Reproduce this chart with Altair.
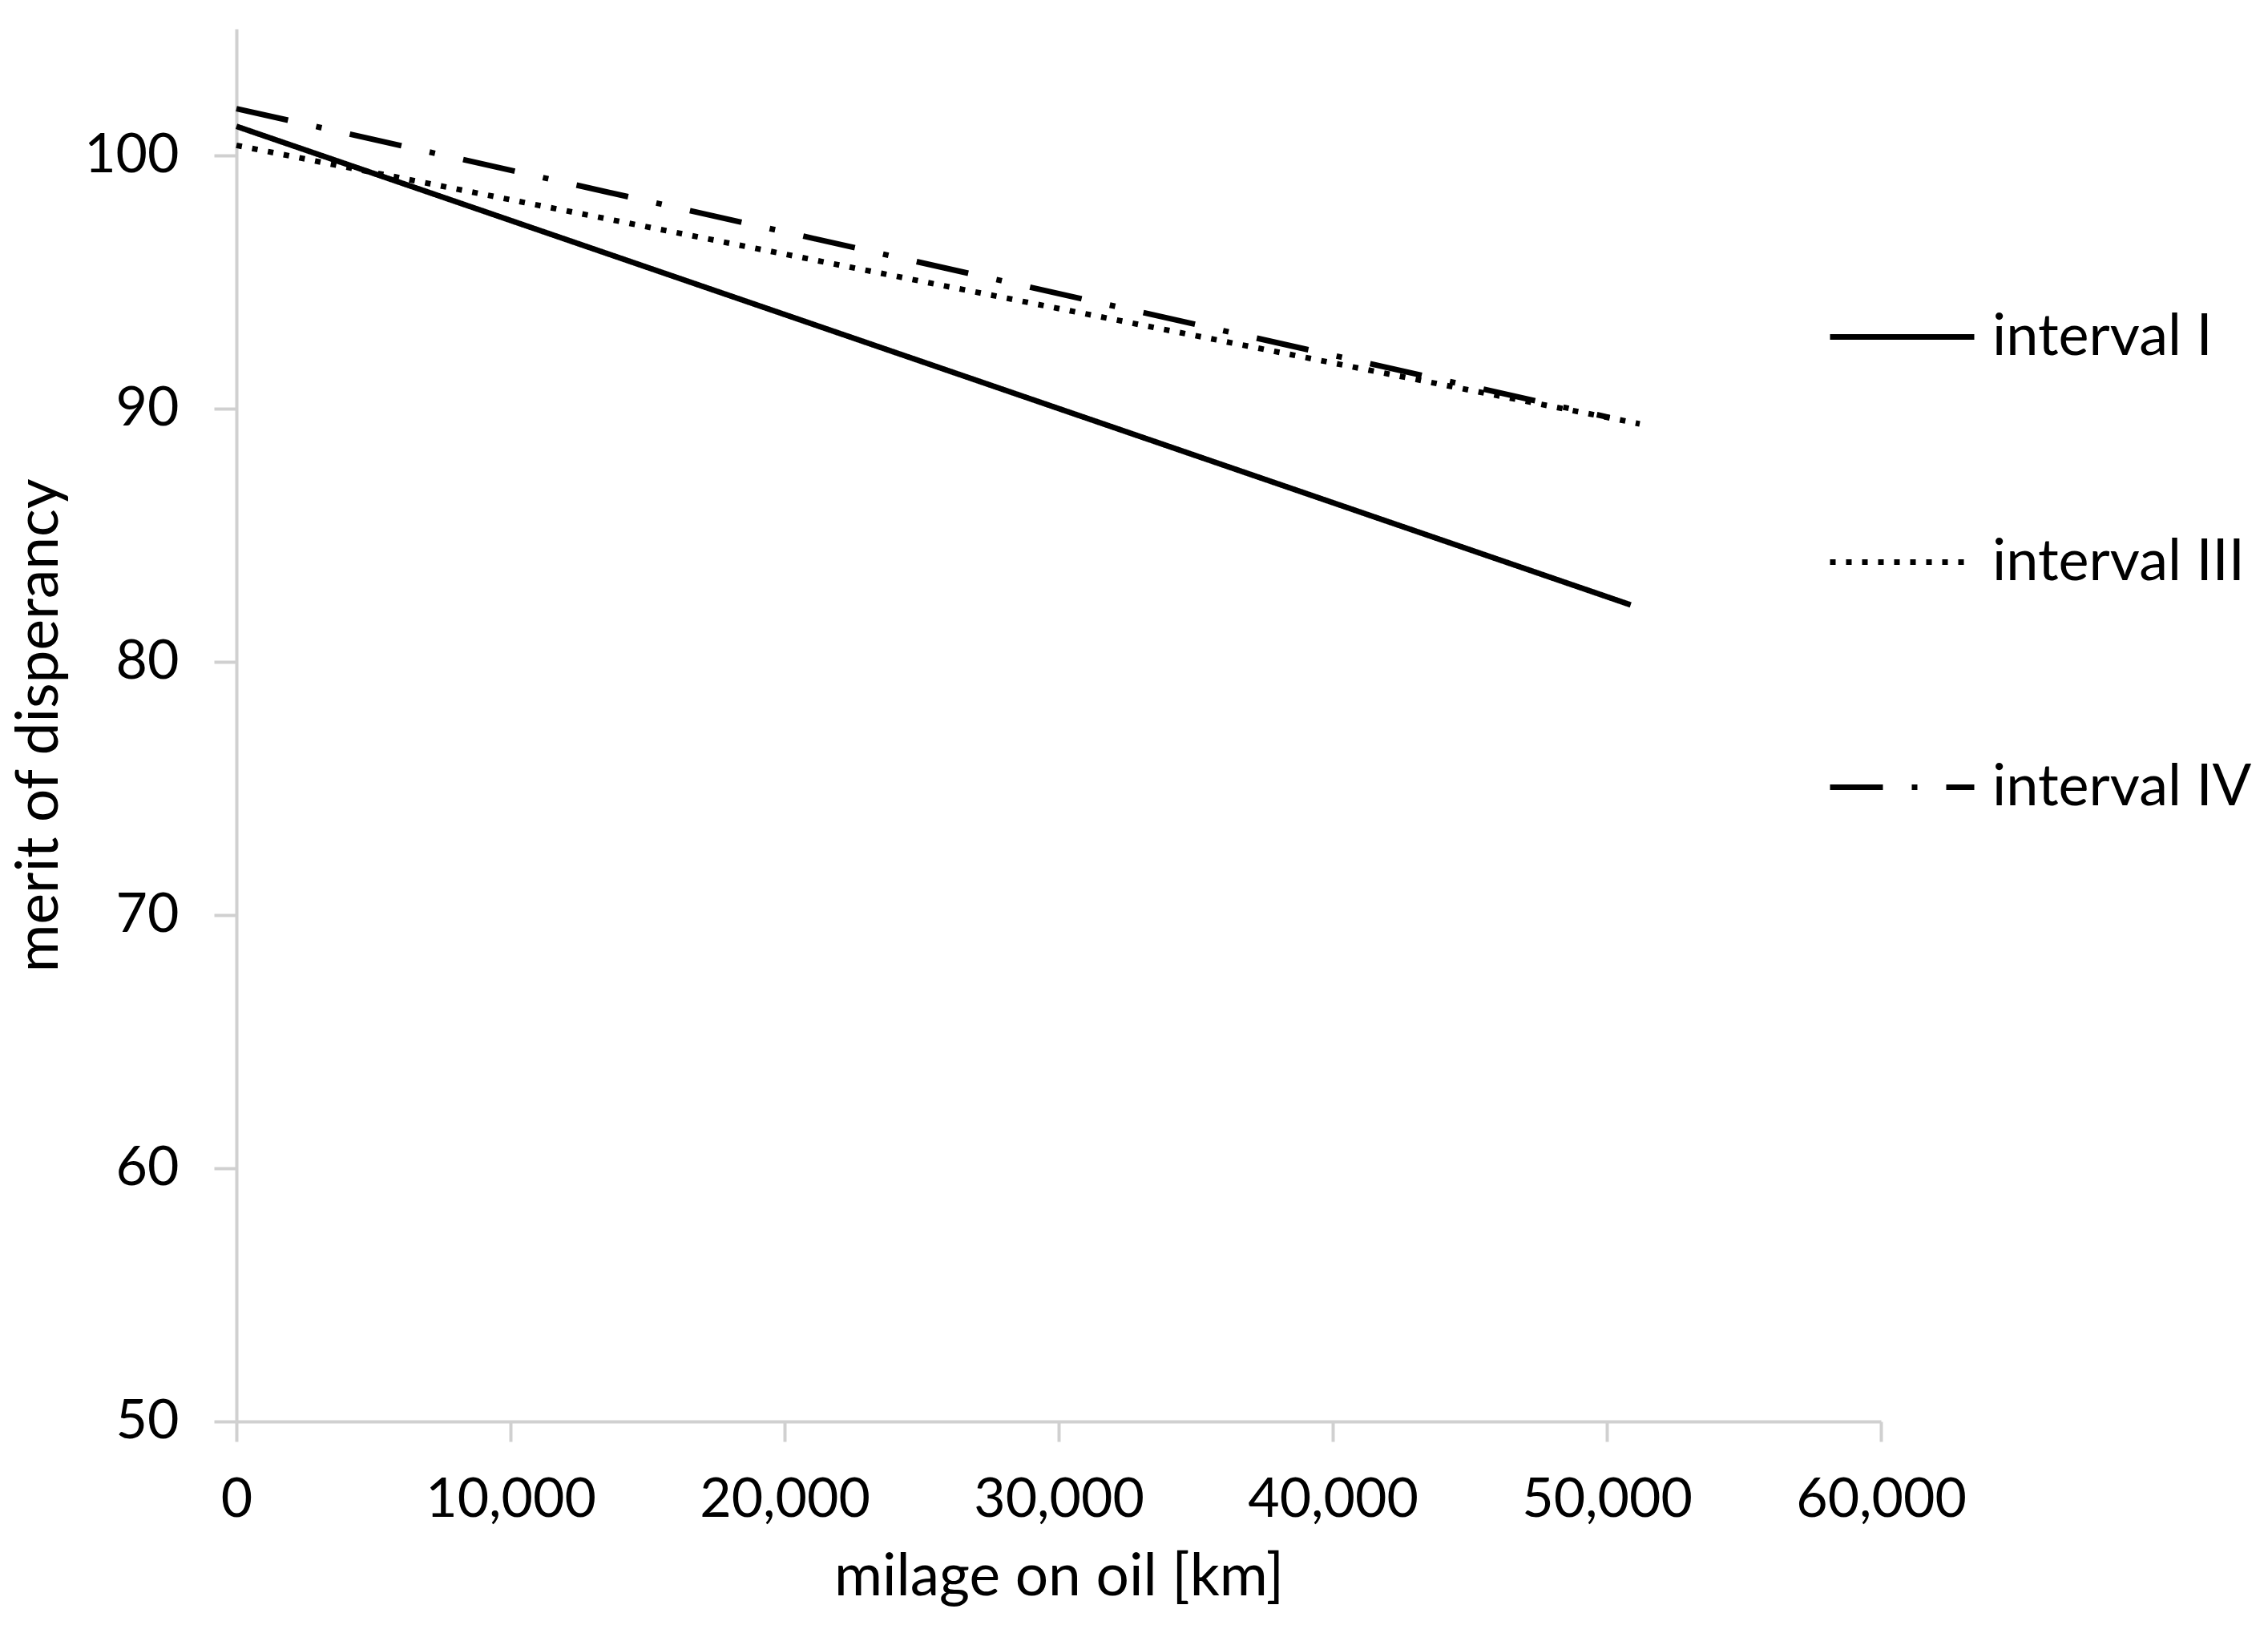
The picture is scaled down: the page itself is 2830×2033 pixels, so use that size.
import altair as alt
import pandas as pd

series_names = ["interval I", "interval III", "interval IV"]
mileage_I = [0, 50870]
merit_I = [101.15, 82.25]
mileage_III = [0, 51200]
merit_III = [100.4, 89.4]
mileage_IV = [0, 50100]
merit_IV = [101.85, 89.65]

x_ticks = [0, 10000, 20000, 30000, 40000, 50000, 60000]
y_ticks = [50, 60, 70, 80, 90, 100]

rows = []
for name, xs, ys in zip(series_names, [mileage_I, mileage_III, mileage_IV], [merit_I, merit_III, merit_IV]):
    for xv, yv in zip(xs, ys):
        rows.append({"series": name, "mileage": xv, "merit": yv})
df = pd.DataFrame(rows)

FONT = "Lato"
FS = 68
AXIS_COLOR = "#d0d0d0"

chart = alt.Chart(df).mark_line(strokeWidth=7, strokeCap="butt", color="black").encode(
    x=alt.X("mileage:Q",
            scale=alt.Scale(domain=[0, 60000], nice=False),
            axis=alt.Axis(values=x_ticks, format=",.0f", title="milage on oil [km]",
                          grid=False, tickSize=25, labelPadding=39, titlePadding=26,
                          labelLimit=500, labelFlush=False, titleFontSize=73)),
    y=alt.Y("merit:Q",
            scale=alt.Scale(domain=[50, 105], nice=False, zero=False),
            axis=alt.Axis(values=y_ticks, title="merit of disperancy",
                          grid=False, tickSize=28, labelPadding=44, titlePadding=18,
                          labelLimit=500, titleFontSize=73)),
    strokeDash=alt.StrokeDash("series:N",
                              scale=alt.Scale(domain=series_names,
                                              range=[[1, 0], [7, 13], [66, 36, 7, 36]]),
                              legend=alt.Legend(title=None, orient="none",
                                                legendX=1985, legendY=291,
                                                symbolType="stroke", symbolSize=32400,
                                                symbolStrokeWidth=7, symbolStrokeColor="black",
                                                labelFontSize=72, labelFont=FONT, labelColor="black",
                                                labelLimit=800,
                                                labelOffset=19, rowPadding=151)),
    detail="series:N",
).properties(width=2052, height=1738).configure_axis(
    domainColor=AXIS_COLOR, domainWidth=4, tickColor=AXIS_COLOR, tickWidth=4,
    labelFont=FONT, labelFontSize=FS, labelColor="black",
    titleFont=FONT, titleColor="black", titleFontWeight="normal",
).configure_view(stroke=None).properties(padding={"left": 5, "top": 28, "right": 0, "bottom": 0})

chart.save("out.html", embed_options={"renderer": "svg", "actions": False})
